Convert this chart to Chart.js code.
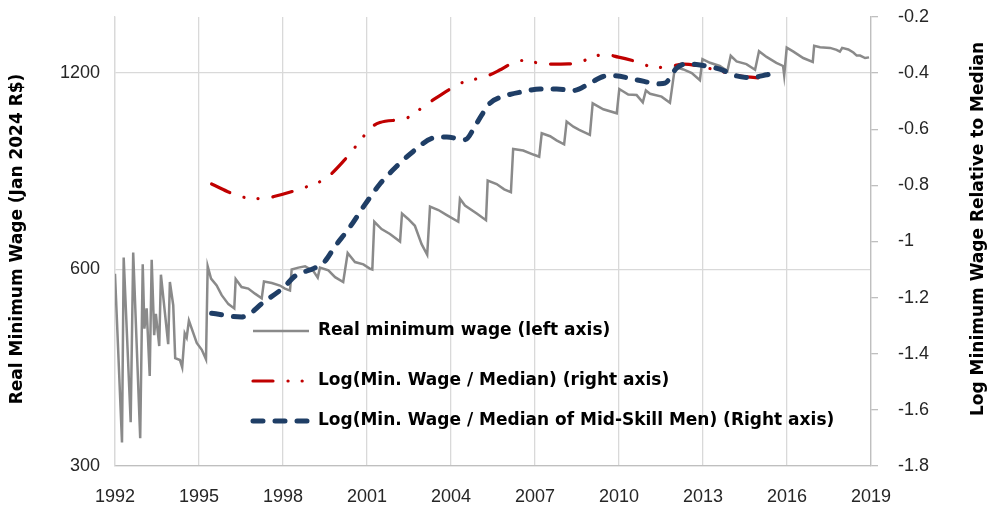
<!DOCTYPE html>
<html>
<head>
<meta charset="utf-8">
<script src="https://cdn.jsdelivr.net/npm/chart.js@4.4.1/dist/chart.umd.min.js"></script>
<style>
html,body{margin:0;padding:0;background:#ffffff;}
#wrap{width:989px;height:512px;}
</style>
</head>
<body>
<div id="wrap"><canvas id="c" width="989" height="512"></canvas></div>
<script>
// ---- Data ----
const xTickLabels = [1992, 1995, 1998, 2001, 2004, 2007, 2010, 2013, 2016, 2019];
const leftTickLabels = [300, 600, 1200];

const wageYears = [
  1992.00,1992.25,1992.31,1992.56,1992.65,1992.90,1992.99,1993.05,1993.13,1993.24,
  1993.31,1993.40,1993.46,1993.58,1993.64,1993.90,1993.96,1994.08,1994.15,1994.32,
  1994.40,1994.49,1994.56,1994.64,1994.92,1995.10,1995.25,1995.31,1995.43,1995.63,
  1995.81,1996.05,1996.26,1996.31,1996.52,1996.76,1997.00,1997.24,1997.32,1997.60,
  1997.89,1998.07,1998.25,1998.31,1998.55,1998.79,1999.08,1999.24,1999.32,1999.62,
  1999.86,2000.15,2000.31,2000.57,2000.87,2001.10,2001.19,2001.26,2001.52,2001.82,
  2002.18,2002.25,2002.47,2002.71,2002.95,2003.15,2003.25,2003.55,2003.85,2004.26,
  2004.32,2004.50,2004.92,2005.25,2005.31,2005.63,2005.90,2006.14,2006.22,2006.58,
  2006.94,2007.15,2007.24,2007.54,2007.77,2008.04,2008.13,2008.37,2008.58,2008.96,
  2009.06,2009.44,2009.92,2010.01,2010.33,2010.63,2010.85,2010.96,2011.11,2011.52,
  2011.82,2012.00,2012.30,2012.60,2012.89,2012.98,2013.25,2013.60,2013.87,2013.99,
  2014.20,2014.55,2014.86,2015.00,2015.27,2015.62,2015.86,2015.90,2015.99,2016.23,
  2016.58,2016.92,2016.97,2017.18,2017.54,2017.77,2017.89,2017.97,2018.19,2018.37,
  2018.49,2018.61,2018.79,2018.93
];
const realMinWage = [
  591,326,626,350,637,331,611,487,523,412,
  621,476,513,458,589,461,574,529,439,436,
  425,479,472,501,463,452,437,607,581,567,
  548,531,523,580,564,561,551,542,575,572,
  567,561,557,600,604,607,597,583,604,598,
  584,574,636,616,611,602,600,710,692,680,
  662,731,717,700,656,632,749,740,727,710,
  770,752,731,714,821,811,796,788,918,913,
  900,893,970,960,946,933,1011,993,982,965,
  1078,1056,1041,1134,1112,1110,1082,1128,1115,1104,
  1080,1226,1215,1200,1170,1260,1244,1230,1208,1275,
  1250,1238,1214,1296,1270,1244,1230,1190,1312,1294,
  1265,1248,1321,1314,1311,1302,1294,1311,1304,1290,
  1276,1276,1265,1268
];

const medYears = [
  1995.45,1996.29,1996.76,1997.30,1997.71,1998.55,1999.08,1999.52,2000.21,2000.50,
  2001.20,2001.46,2002.42,2002.83,2003.25,2004.44,2004.92,2005.39,2005.80,2006.46,
  2006.70,2007.15,2007.65,2008.19,2008.49,2008.96,2009.48,2009.98,2010.51,2011.35,
  2011.82,2012.32,2012.95,2013.66,2014.30,2015.13,2015.50
];
const logMinToMedian = [
  -0.795,-0.833,-0.845,-0.847,-0.839,-0.815,-0.796,-0.776,-0.708,-0.673,
  -0.590,-0.576,-0.560,-0.533,-0.503,-0.432,-0.420,-0.406,-0.386,-0.355,
  -0.355,-0.365,-0.368,-0.367,-0.365,-0.347,-0.333,-0.343,-0.356,-0.380,
  -0.376,-0.368,-0.377,-0.394,-0.410,-0.418,-0.421
];

const midYears = [
  1995.45,1996.52,1997.36,1998.01,1998.43,1999.14,1999.50,1999.86,2000.33,2000.93,
  2001.46,2002.06,2002.65,2003.37,2003.85,2004.50,2004.92,2005.39,2005.87,2006.58,
  2007.18,2007.77,2008.37,2008.96,2009.44,2009.80,2010.63,2011.46,2011.64,2012.06,
  2012.42,2013.01,2013.60,2014.20,2014.68,2015.27,2015.51
];
const logMinToMidSkill = [
  -1.256,-1.269,-1.212,-1.165,-1.123,-1.094,-1.070,-1.017,-0.957,-0.868,
  -0.795,-0.732,-0.679,-0.631,-0.628,-0.637,-0.578,-0.507,-0.483,-0.466,
  -0.457,-0.457,-0.462,-0.436,-0.412,-0.409,-0.424,-0.438,-0.436,-0.382,
  -0.367,-0.373,-0.386,-0.410,-0.416,-0.406,-0.400
];

const seriesNames = [
  'Real minimum wage (left axis)',
  'Log(Min. Wage / Median) (right axis)',
  'Log(Min. Wage / Median of Mid-Skill Men) (Right axis)'
];
const leftTitle = 'Real Minimum Wage (Jan 2024 R$)';
const rightTitle = 'Log Minimum Wage Relative to Median';

// ---- Helpers ----
const zip = (xs, ys) => xs.map((x, i) => ({x: x, y: ys[i]}));
const FONT = "'Liberation Sans', Arial, sans-serif";
const BOLDFONT = "'DejaVu Sans', 'Liberation Sans', Arial, sans-serif";
const GRID = '#d9d9d9';

const titlesAndLegend = {
  id: 'titlesAndLegend',
  afterDraw(chart) {
    const ctx = chart.ctx;
    ctx.save();
    ctx.fillStyle = '#000000';
    ctx.font = 'bold 17px ' + BOLDFONT;
    ctx.textAlign = 'center';
    ctx.textBaseline = 'middle';
    // left title (bottom-to-top)
    ctx.save();
    ctx.translate(18, 239);
    ctx.rotate(-Math.PI / 2);
    ctx.fillText(leftTitle, 0, 0);
    ctx.restore();
    // right title (bottom-to-top)
    ctx.save();
    ctx.translate(979, 229);
    ctx.rotate(-Math.PI / 2);
    ctx.fillText(rightTitle, 0, 0);
    ctx.restore();

    // legend inside plot
    const rows = [331, 381, 421];
    const x0 = 253, x1 = 309, tx = 318;
    chart.data.datasets.forEach((ds, i) => {
      const y = rows[i];
      ctx.save();
      ctx.strokeStyle = ds.borderColor;
      ctx.lineWidth = ds.borderWidth;
      ctx.lineCap = ds.borderCapStyle || 'butt';
      ctx.setLineDash(ds.borderDash || []);
      ctx.beginPath();
      ctx.moveTo(x0, y);
      ctx.lineTo(x1, y);
      ctx.stroke();
      ctx.restore();
      ctx.save();
      ctx.fillStyle = '#000000';
      ctx.font = 'bold 17px ' + BOLDFONT;
      ctx.textAlign = 'left';
      ctx.textBaseline = 'middle';
      ctx.fillText(ds.label, tx, y);
      ctx.restore();
    });
    ctx.restore();
  }
};

const noPadV = s => { s.paddingTop = 0; s.paddingBottom = 0; };

new Chart(document.getElementById('c'), {
  type: 'line',
  data: {
    datasets: [
      {
        label: seriesNames[0],
        data: zip(wageYears, realMinWage),
        yAxisID: 'y',
        borderColor: '#8a8a8a',
        borderWidth: 2.5,
        borderCapStyle: 'butt',
        pointRadius: 0,
        tension: 0,
        order: 3
      },
      {
        label: seriesNames[1],
        data: zip(medYears, logMinToMedian),
        yAxisID: 'y2',
        borderColor: '#c00000',
        borderWidth: 3.2,
        borderDash: [20, 15, 0.1, 14, 0.1, 15],
        borderCapStyle: 'round',
        pointRadius: 0,
        cubicInterpolationMode: 'monotone',
        order: 2
      },
      {
        label: seriesNames[2],
        data: zip(midYears, logMinToMidSkill),
        yAxisID: 'y2',
        borderColor: '#1f3e66',
        borderWidth: 5,
        borderDash: [10, 12],
        borderCapStyle: 'round',
        pointRadius: 0,
        cubicInterpolationMode: 'monotone',
        order: 1
      }
    ]
  },
  options: {
    responsive: false,
    animation: false,
    layout: {padding: {top: 17, left: 0, right: 0, bottom: 0}},
    plugins: {legend: {display: false}, tooltip: {enabled: false}},
    scales: {
      x: {
        type: 'linear',
        min: 1992,
        max: 2019,
        afterBuildTicks: s => { s.ticks = xTickLabels.map(v => ({value: v})); },
        ticks: {
          callback: v => String(v),
          font: {family: FONT, size: 18},
          color: '#262626',
          padding: 20,
          maxRotation: 0
        },
        grid: {color: GRID, lineWidth: 1.3, drawTicks: false},
        border: {color: '#bfbfbf', width: 1.3},
        afterFit: s => { s.height = 46; s.paddingLeft = 0; s.paddingRight = 0; }
      },
      y: {
        type: 'logarithmic',
        position: 'left',
        min: 300,
        max: 1462,
        afterBuildTicks: s => { s.ticks = leftTickLabels.map(v => ({value: v})); },
        ticks: {
          callback: v => String(v),
          font: {family: FONT, size: 18},
          color: '#262626',
          padding: 15
        },
        grid: {color: GRID, lineWidth: 1.3, drawTicks: false},
        border: {color: GRID, width: 1.3},
        afterFit: s => { s.width = 115; noPadV(s); }
      },
      y2: {
        type: 'linear',
        position: 'right',
        min: -1.8,
        max: -0.2,
        ticks: {
          stepSize: 0.2,
          callback: v => String(Number(v.toFixed(1))),
          font: {family: FONT, size: 18},
          color: '#262626',
          padding: 20
        },
        grid: {drawOnChartArea: false, color: '#bfbfbf', tickLength: 7, lineWidth: 1.3},
        border: {color: '#bfbfbf', width: 1.3},
        afterFit: s => { s.width = 118; noPadV(s); }
      }
    }
  },
  plugins: [titlesAndLegend]
});
</script>
</body>
</html>
